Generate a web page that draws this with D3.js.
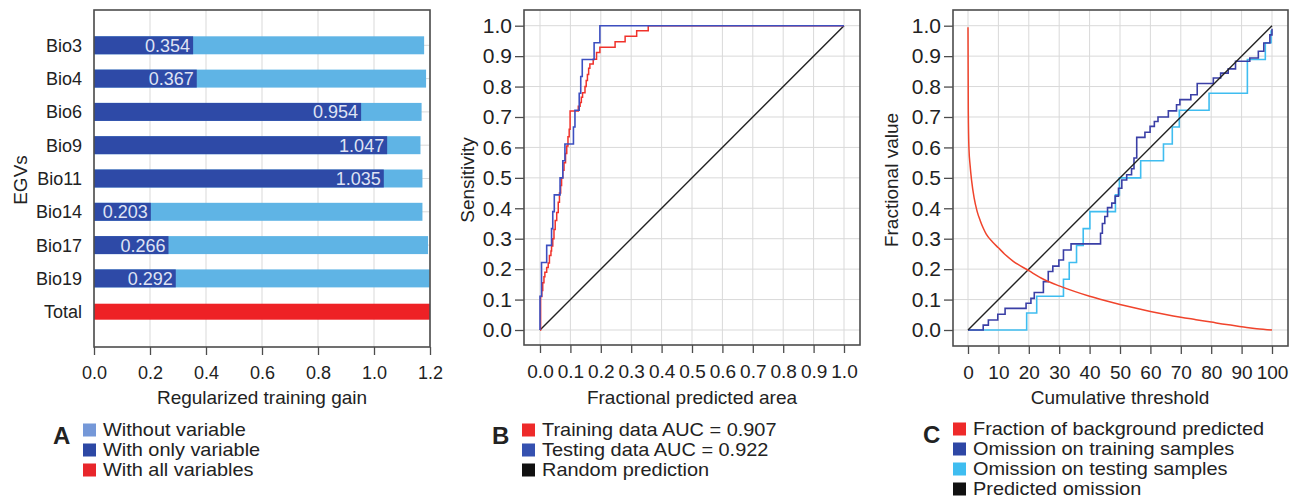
<!DOCTYPE html>
<html>
<head>
<meta charset="utf-8">
<script src="https://cdn.jsdelivr.net/npm/d3@7"></script>
<style>
body { margin: 0; background: #fff; }
text { font-family: "Liberation Sans", Arial, Helvetica, sans-serif; fill: #222; }
</style>
</head>
<body>
<svg id="fig" width="1296" height="500"></svg>
<script>
// ---- panel A: jackknife of regularized training gain
var egvs = ["Bio3", "Bio4", "Bio6", "Bio9", "Bio11", "Bio14", "Bio17", "Bio19", "Total"];
var withoutVar = [1.179, 1.186, 1.170, 1.166, 1.173, 1.173, 1.193, 1.199];
var onlyVar = [0.354, 0.367, 0.954, 1.047, 1.035, 0.203, 0.266, 0.292];
var totalGain = 1.2;
var gainTicks = [0, 0.2, 0.4, 0.6, 0.8, 1.0, 1.2];

// ---- panel B: ROC curves (x = fractional predicted area, y = sensitivity)
var trainFpr = [0, 0.002, 0.006, 0.009, 0.013, 0.016, 0.022, 0.027, 0.031, 0.036, 0.038, 0.042, 0.046, 0.050, 0.055, 0.060, 0.064, 0.068, 0.071, 0.075, 0.079, 0.084, 0.088, 0.092, 0.096, 0.099, 0.126, 0.132, 0.136, 0.140, 0.148, 0.152, 0.156, 0.160, 0.164, 0.175, 0.186, 0.197, 0.247, 0.280, 0.318, 0.356, 1.0];
var trainTpr = [0, 0.11, 0.13, 0.155, 0.175, 0.19, 0.205, 0.22, 0.245, 0.26, 0.276, 0.30, 0.33, 0.36, 0.386, 0.42, 0.45, 0.475, 0.50, 0.525, 0.55, 0.58, 0.605, 0.635, 0.66, 0.72, 0.735, 0.748, 0.765, 0.78, 0.80, 0.82, 0.84, 0.86, 0.874, 0.89, 0.912, 0.929, 0.947, 0.965, 0.983, 1.0, 1.0];
var testFpr = [0, 0, 0.005, 0.022, 0.038, 0.042, 0.047, 0.066, 0.075, 0.082, 0.110, 0.115, 0.129, 0.134, 0.139, 0.178, 0.197, 1.0];
var testTpr = [0, 0.111, 0.222, 0.278, 0.333, 0.389, 0.444, 0.5, 0.556, 0.611, 0.667, 0.722, 0.778, 0.833, 0.889, 0.944, 1.0, 1.0];
var rocTicks = [0, 0.1, 0.2, 0.3, 0.4, 0.5, 0.6, 0.7, 0.8, 0.9, 1.0];

// ---- panel C: omission and predicted area vs cumulative threshold
var bgThr = [0, 0.1, 0.3, 0.7, 1.2, 2, 3, 4, 5, 6, 8, 10, 12, 15, 20, 25, 30, 35, 40, 45, 50, 55, 60, 65, 70, 75, 80, 85, 90, 95, 100];
var bgFrac = [0.995, 0.72, 0.6, 0.54, 0.49, 0.435, 0.39, 0.36, 0.335, 0.315, 0.29, 0.27, 0.25, 0.225, 0.195, 0.166, 0.145, 0.127, 0.111, 0.097, 0.084, 0.072, 0.061, 0.051, 0.042, 0.034, 0.026, 0.018, 0.011, 0.004, 0.0];
var trainOmThr = [0, 5.0, 6.7, 9.8, 12.2, 19.1, 20.7, 21.8, 24.8, 26.4, 27.9, 29.9, 31.4, 33.9, 43.6, 44.2, 45.0, 45.9, 47.3, 48.4, 49.5, 50.6, 52.2, 53.8, 54.6, 55.5, 58.2, 59.9, 61.3, 62.5, 65.9, 68.6, 69.7, 73.3, 75.4, 80.7, 83.1, 85.6, 88.0, 92.7, 95.5, 97.3, 99.3, 100];
var trainOm = [0, 0.016, 0.033, 0.052, 0.071, 0.088, 0.104, 0.123, 0.159, 0.192, 0.21, 0.23, 0.263, 0.283, 0.318, 0.35, 0.373, 0.402, 0.417, 0.44, 0.466, 0.493, 0.51, 0.53, 0.565, 0.633, 0.65, 0.669, 0.685, 0.70, 0.72, 0.74, 0.757, 0.773, 0.81, 0.828, 0.844, 0.858, 0.883, 0.894, 0.916, 0.943, 0.97, 0.99];
var testOmThr = [0, 19.3, 22.6, 31.4, 33.3, 35.7, 37.9, 40.1, 48.5, 49.8, 56.8, 64.3, 67.2, 69.5, 79.3, 91.9, 97.8, 99.7];
var testOm = [0, 0.056, 0.111, 0.167, 0.222, 0.278, 0.333, 0.389, 0.444, 0.5, 0.556, 0.611, 0.667, 0.722, 0.778, 0.889, 0.944, 0.985];
var thrTicks = [0, 10, 20, 30, 40, 50, 60, 70, 80, 90, 100];
var fracTicks = [0, 0.1, 0.2, 0.3, 0.4, 0.5, 0.6, 0.7, 0.8, 0.9, 1.0];

// ---- legends
var legendA = ["Without variable", "With only variable", "With all variables"];
var legendAColors = ["#7598d8", "#2d48a4", "#e8262b"];
var legendB = ["Training data AUC = 0.907", "Testing data AUC = 0.922", "Random prediction"];
var legendBColors = ["#ee2a2a", "#3551b0", "#111"];
var legendC = ["Fraction of background predicted", "Omission on training samples", "Omission on testing samples", "Predicted omission"];
var legendCColors = ["#ee2a2a", "#2e47a5", "#3fbdf0", "#111"];

var svg = d3.select("#fig");
var gridCol = "#d9d9d9", frameCol = "#4d4d4d";

function frame(x0, y0, x1, y1) {
  svg.append("rect")
    .attr("x", x0).attr("y", y0).attr("width", x1 - x0).attr("height", y1 - y0)
    .attr("fill", "none").attr("stroke", frameCol).attr("stroke-width", 1.6);
}

function styleAxis(g, size) {
  g.attr("font-size", null).attr("font-family", null);
  g.select(".domain").remove();
  g.selectAll(".tick line").attr("stroke", frameCol).attr("stroke-width", 1.3);
  g.selectAll(".tick text").style("font-size", size + "px").attr("fill", "#222");
}

// legend rows are tight in the original, so the text is a bit wider than tall
function legend(x, y, letter, labels, colors) {
  svg.append("text").attr("x", x - 30).attr("y", y + 6).attr("dy", "0.35em")
    .style("font-size", "24px").style("font-weight", "bold").text(letter);
  var g = svg.append("g");
  labels.forEach(function (l, i) {
    var yy = y + i * 20;
    g.append("rect").attr("x", x).attr("y", yy - 6.5).attr("width", 13).attr("height", 13)
      .attr("fill", colors[i]);
    g.append("text").attr("transform", "translate(" + (x + 20) + "," + yy + ") scale(1.12,1)")
      .attr("dy", "0.35em").style("font-size", "17.8px").text(l);
  });
}

// ================= panel A
var xA = d3.scaleLinear().domain([0, 1.2]).range([94, 430]);
var yA = d3.scaleBand().domain(egvs).range([10, 347]).paddingInner(0.46).paddingOuter(0.79);

svg.append("g").selectAll("line").data(gainTicks).enter().append("line")
  .attr("x1", d => xA(d)).attr("x2", d => xA(d)).attr("y1", 10).attr("y2", 347)
  .attr("stroke", gridCol);
svg.append("g").selectAll("line").data(egvs).enter().append("line")
  .attr("x1", 94).attr("x2", 430)
  .attr("y1", d => yA(d) + yA.bandwidth() / 2).attr("y2", d => yA(d) + yA.bandwidth() / 2)
  .attr("stroke", gridCol);

var varRows = egvs.slice(0, 8);
svg.append("g").selectAll("rect").data(varRows).enter().append("rect")
  .attr("x", xA(0)).attr("y", d => yA(d))
  .attr("width", (d, i) => xA(withoutVar[i]) - xA(0)).attr("height", yA.bandwidth())
  .attr("fill", "#5fb4e5");
svg.append("g").selectAll("rect").data(varRows).enter().append("rect")
  .attr("x", xA(0)).attr("y", d => yA(d))
  .attr("width", (d, i) => xA(onlyVar[i]) - xA(0)).attr("height", yA.bandwidth())
  .attr("fill", "#2e4aa7");
svg.append("rect")
  .attr("x", xA(0)).attr("y", yA("Total") + 1)
  .attr("width", xA(totalGain) - xA(0)).attr("height", yA.bandwidth() - 2)
  .attr("fill", "#ee2125");
svg.append("g").selectAll("text").data(varRows).enter().append("text")
  .attr("x", (d, i) => xA(onlyVar[i]) - 3).attr("y", d => yA(d) + yA.bandwidth() / 2)
  .attr("dy", "0.36em").attr("text-anchor", "end")
  .style("font-size", "18px").style("fill", "#dfe3f4")
  .text((d, i) => d3.format(".3f")(onlyVar[i]));

svg.append("g").selectAll("text").data(egvs).enter().append("text")
  .attr("x", 82).attr("y", d => yA(d) + yA.bandwidth() / 2).attr("dy", "0.36em")
  .attr("text-anchor", "end").style("font-size", "18px").text(d => d);

var axA = svg.append("g").attr("transform", "translate(0,347)")
  .call(d3.axisBottom(xA).tickValues(gainTicks).tickSize(8).tickPadding(11).tickFormat(d3.format(".1f")));
styleAxis(axA, 18);
frame(94, 10, 430, 347);

svg.append("text").attr("x", 262).attr("y", 397).attr("dy", "0.35em").attr("text-anchor", "middle")
  .style("font-size", "19px").text("Regularized training gain");
svg.append("text").attr("transform", "translate(20,180) rotate(-90)").attr("dy", "0.35em")
  .attr("text-anchor", "middle").style("font-size", "19px").text("EGVs");

// ================= panel B
var xB = d3.scaleLinear().domain([0, 1]).range([540, 844]);
var yB = d3.scaleLinear().domain([0, 1]).range([330, 25.7]);

svg.append("g").selectAll("line").data(rocTicks).enter().append("line")
  .attr("x1", d => xB(d)).attr("x2", d => xB(d)).attr("y1", 10).attr("y2", 345).attr("stroke", gridCol);
svg.append("g").selectAll("line").data(rocTicks).enter().append("line")
  .attr("y1", d => yB(d)).attr("y2", d => yB(d)).attr("x1", 524).attr("x2", 860).attr("stroke", gridCol);

var rocLine = d3.line().curve(d3.curveStepAfter).x(d => xB(d[0])).y(d => yB(d[1]));
svg.append("path").datum([[0, 0], [1, 1]])
  .attr("d", d3.line().x(d => xB(d[0])).y(d => yB(d[1])))
  .attr("fill", "none").attr("stroke", "#222").attr("stroke-width", 1.4);
svg.append("path").datum(trainFpr.map((v, i) => [v, trainTpr[i]]))
  .attr("d", rocLine).attr("fill", "none").attr("stroke", "#f0322b").attr("stroke-width", 1.5);
svg.append("path").datum(testFpr.map((v, i) => [v, testTpr[i]]))
  .attr("d", rocLine).attr("fill", "none").attr("stroke", "#3d4fc0").attr("stroke-width", 1.6);

var axBx = svg.append("g").attr("transform", "translate(0,345)")
  .call(d3.axisBottom(xB).tickValues(rocTicks).tickSize(8).tickPadding(12).tickFormat(d3.format(".1f")));
styleAxis(axBx, 19);
var axBy = svg.append("g").attr("transform", "translate(524,0)")
  .call(d3.axisLeft(yB).tickValues(rocTicks).tickSize(9).tickPadding(3).tickFormat(d3.format(".1f")));
styleAxis(axBy, 21);
frame(524, 10, 860, 345);

svg.append("text").attr("x", 692).attr("y", 397).attr("dy", "0.35em").attr("text-anchor", "middle")
  .style("font-size", "19px").text("Fractional predicted area");
svg.append("text").attr("transform", "translate(467,180) rotate(-90)").attr("dy", "0.35em")
  .attr("text-anchor", "middle").style("font-size", "19px").text("Sensitivity");

// ================= panel C
var xC = d3.scaleLinear().domain([0, 100]).range([968, 1272]);
var yC = d3.scaleLinear().domain([0, 1]).range([330, 25.7]);

svg.append("g").selectAll("line").data(thrTicks).enter().append("line")
  .attr("x1", d => xC(d)).attr("x2", d => xC(d)).attr("y1", 10).attr("y2", 346).attr("stroke", gridCol);
svg.append("g").selectAll("line").data(fracTicks).enter().append("line")
  .attr("y1", d => yC(d)).attr("y2", d => yC(d)).attr("x1", 953).attr("x2", 1288).attr("stroke", gridCol);

var stepC = d3.line().curve(d3.curveStepAfter).x(d => xC(d[0])).y(d => yC(d[1]));
svg.append("path").datum(testOmThr.map((v, i) => [v, testOm[i]]))
  .attr("d", stepC).attr("fill", "none").attr("stroke", "#3fbdf0").attr("stroke-width", 1.6);
svg.append("path").datum(trainOmThr.map((v, i) => [v, trainOm[i]]))
  .attr("d", stepC).attr("fill", "none").attr("stroke", "#3a3fa6").attr("stroke-width", 1.6);
svg.append("path").datum([[0, 0], [100, 1]])
  .attr("d", d3.line().x(d => xC(d[0])).y(d => yC(d[1])))
  .attr("fill", "none").attr("stroke", "#222").attr("stroke-width", 1.4);
svg.append("path").datum(bgThr.map((v, i) => [v, bgFrac[i]]))
  .attr("d", d3.line().curve(d3.curveMonotoneX).x(d => xC(d[0])).y(d => yC(d[1])))
  .attr("fill", "none").attr("stroke", "#f0442c").attr("stroke-width", 1.5);

var axCx = svg.append("g").attr("transform", "translate(0,346)")
  .call(d3.axisBottom(xC).tickValues(thrTicks).tickSize(8).tickPadding(12));
styleAxis(axCx, 19);
var axCy = svg.append("g").attr("transform", "translate(953,0)")
  .call(d3.axisLeft(yC).tickValues(fracTicks).tickSize(9).tickPadding(3).tickFormat(d3.format(".1f")));
styleAxis(axCy, 21);
frame(953, 10, 1288, 346);

svg.append("text").attr("x", 1120).attr("y", 397).attr("dy", "0.35em").attr("text-anchor", "middle")
  .style("font-size", "19px").text("Cumulative threshold");
svg.append("text").attr("transform", "translate(891,180) rotate(-90)").attr("dy", "0.35em")
  .attr("text-anchor", "middle").style("font-size", "19px").text("Fractional value");

// ================= legends
legend(83, 430, "A", legendA, legendAColors);
legend(522, 430, "B", legendB, legendBColors);
legend(953, 429, "C", legendC, legendCColors);
</script>
</body>
</html>
